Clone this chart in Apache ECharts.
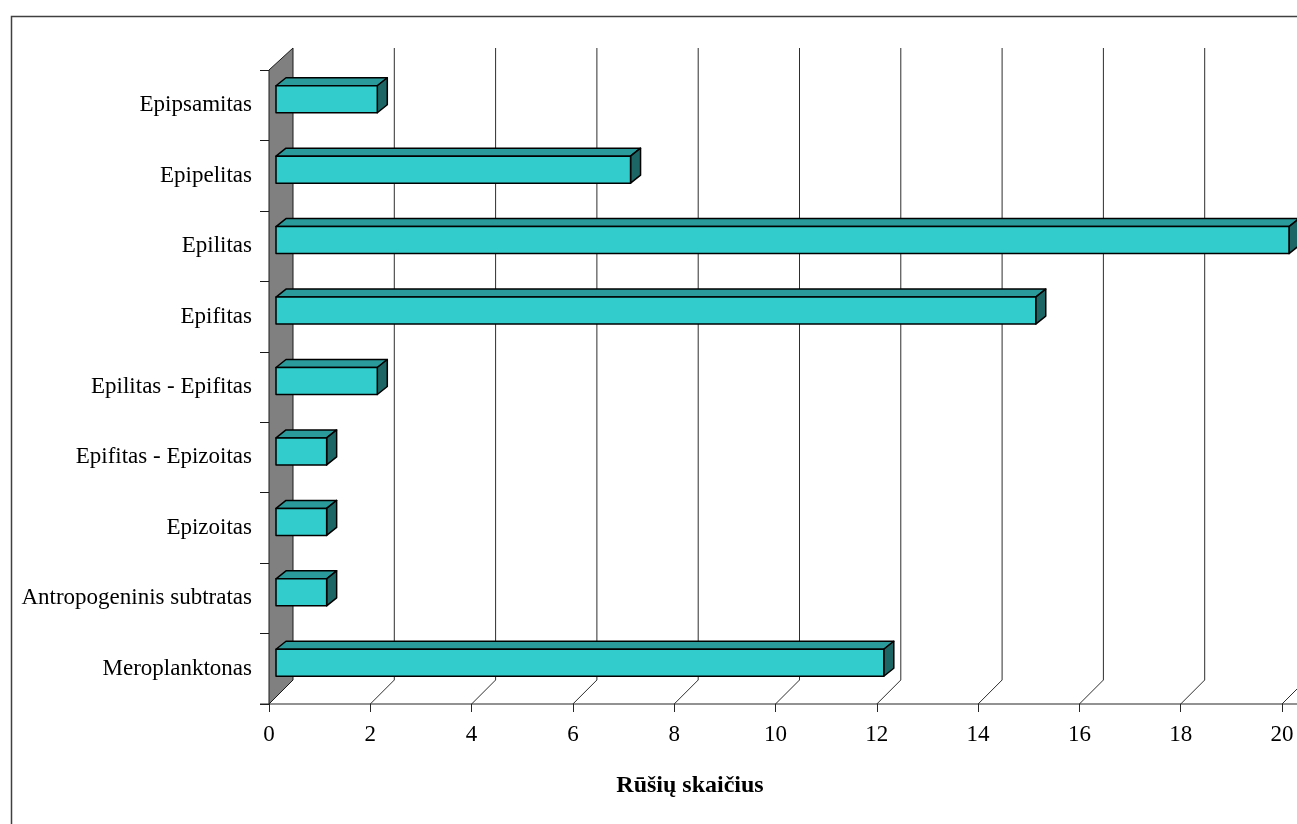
<!DOCTYPE html>
<html>
<head>
<meta charset="utf-8">
<title>Rūšių skaičius</title>
<script src="https://cdn.jsdelivr.net/npm/echarts@6/dist/echarts.min.js"></script>
<style>
  html, body { margin: 0; padding: 0; background: #ffffff; }
  #chart { width: 1297px; height: 824px; }
</style>
</head>
<body>
<div id="chart"></div>
<script>
// Substrate groups and the number of species found on each
const categories = [
  'Epipsamitas',
  'Epipelitas',
  'Epilitas',
  'Epifitas',
  'Epilitas - Epifitas',
  'Epifitas - Epizoitas',
  'Epizoitas',
  'Antropogeninis subtratas',
  'Meroplanktonas'
];
const speciesCounts = [2, 7, 20, 15, 2, 1, 1, 1, 12];
const xTicks = [0, 2, 4, 6, 8, 10, 12, 14, 16, 18, 20];
const axisTitle = 'Rūšių skaičius';

// 3-D look: depth of the plot box and of each bar
const WALL_DX = 24, WALL_DY = 22;
const BAR_SHIFT = 7;          // how far into the depth the bar front sits
const BAR_DX = 10, BAR_DY = 8; // bar thickness in depth
const BAR_H = 27;
const FONT = '"Liberation Serif", "Times New Roman", serif';

const chart = echarts.init(document.getElementById('chart'), null, { renderer: 'canvas' });

// Back gridlines with their floor diagonals, plus the grey side wall
function renderFrame(params, api) {
  const t = api.value(0);
  const cs = params.coordSys;
  const x = api.coord([t, 0])[0];
  const top = cs.y, bottom = cs.y + cs.height;
  const children = [];
  if (t === 0) {
    children.push({
      type: 'polygon',
      shape: { points: [[x, top], [x + WALL_DX, top - WALL_DY], [x + WALL_DX, bottom - WALL_DY - 2], [x, bottom]] },
      style: { fill: '#808080', stroke: '#1a1a1a', lineWidth: 1 }
    });
    children.push({
      type: 'line',
      shape: { x1: x - 9, y1: bottom, x2: cs.x + cs.width + 40, y2: bottom },
      style: { stroke: '#262626', lineWidth: 1.2 }
    });
  } else {
    children.push({
      type: 'polyline',
      shape: { points: [[x + WALL_DX, top - WALL_DY], [x + WALL_DX, bottom - WALL_DY - 2], [x, bottom]] },
      style: { stroke: '#2e2e2e', lineWidth: 1, fill: null }
    });
  }
  return { type: 'group', children: children };
}

// Each bar as a front face, a lit top and a shaded right side
function renderBar(params, api) {
  const v = api.value(0);
  const ci = api.value(1);
  const p0 = api.coord([0, ci]);
  const p1 = api.coord([v, ci]);
  const cy = p0[1] - 6;
  const x0 = p0[0] + BAR_SHIFT, x1 = p1[0] + BAR_SHIFT;
  const y0 = cy - BAR_H / 2, y1 = cy + BAR_H / 2;
  const edge = { stroke: '#000000', lineWidth: 1.5, lineJoin: 'round' };
  return {
    type: 'group',
    children: [
      {
        type: 'polygon',
        shape: { points: [[x0, y0], [x0 + BAR_DX, y0 - BAR_DY], [x1 + BAR_DX, y0 - BAR_DY], [x1, y0]] },
        style: Object.assign({ fill: '#2a9a9a' }, edge)
      },
      {
        type: 'polygon',
        shape: { points: [[x1, y0], [x1 + BAR_DX, y0 - BAR_DY], [x1 + BAR_DX, y1 - BAR_DY], [x1, y1]] },
        style: Object.assign({ fill: '#1d6666' }, edge)
      },
      {
        type: 'rect',
        shape: { x: x0, y: y0, width: x1 - x0, height: y1 - y0 },
        style: Object.assign({ fill: '#33cccc' }, edge)
      }
    ]
  };
}

const option = {
  animation: false,
  backgroundColor: '#ffffff',
  grid: { left: 269, right: 15, top: 70, bottom: 120, containLabel: false },
  xAxis: {
    type: 'value',
    min: 0,
    max: 20,
    interval: 2,
    axisLine: { show: false },
    axisTick: { show: true, length: 8, lineStyle: { color: '#262626', width: 1 } },
    splitLine: { show: false },
    axisLabel: {
      margin: 19,
      color: '#000000',
      fontFamily: FONT,
      fontSize: 23,
      formatter: function (v) { return xTicks.indexOf(v) >= 0 ? String(v) : ''; }
    }
  },
  yAxis: {
    type: 'category',
    data: categories,
    inverse: true,
    axisLine: { show: true, lineStyle: { color: '#1a1a1a', width: 1 } },
    axisTick: { show: true, length: 9, interval: 0, lineStyle: { color: '#1a1a1a', width: 1 } },
    splitLine: { show: false },
    axisLabel: {
      margin: 17,
      interval: 0,
      color: '#000000',
      fontFamily: FONT,
      fontSize: 23
    }
  },
  graphic: [
    {
      type: 'rect',
      left: 9,
      top: 14,
      shape: { width: 1320, height: 840 },
      style: { fill: null, stroke: '#404040', lineWidth: 1.5 },
      z: 10
    },
    {
      type: 'text',
      x: 690,
      y: 786,
      style: {
        text: axisTitle,
        fill: '#000000',
        font: 'bold 24px ' + FONT,
        textAlign: 'center',
        textVerticalAlign: 'middle'
      }
    }
  ],
  series: [
    {
      type: 'custom',
      name: 'frame',
      coordinateSystem: 'cartesian2d',
      clip: false,
      silent: true,
      z: 1,
      renderItem: renderFrame,
      encode: { x: 0 },
      data: xTicks.map(function (t) { return [t, 0]; })
    },
    {
      type: 'custom',
      name: axisTitle,
      coordinateSystem: 'cartesian2d',
      clip: false,
      z: 3,
      renderItem: renderBar,
      encode: { x: 0, y: 1 },
      data: speciesCounts.map(function (v, i) { return [v, i]; })
    }
  ]
};

chart.setOption(option);
</script>
</body>
</html>
